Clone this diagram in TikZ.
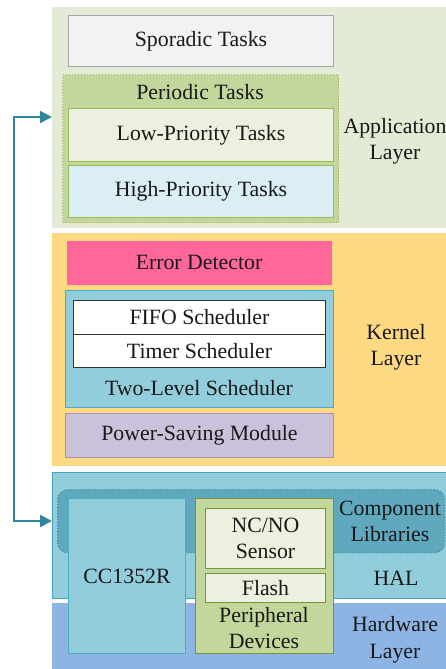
\documentclass[tikz,border=0pt]{standalone}
\usepackage{fontspec}
\setmainfont{Liberation Serif}
\newfontfamily\tnr{Liberation Serif}
\usetikzlibrary{arrows.meta}

\definecolor{appbg}{HTML}{E3EAD5}
\definecolor{sporfill}{HTML}{F2F2F2}
\definecolor{sporline}{HTML}{A6A6A6}
\definecolor{olivefill}{HTML}{C3D69B}
\definecolor{oliveline}{HTML}{9BBB59}
\definecolor{paleg}{HTML}{EBF1DE}
\definecolor{paleb}{HTML}{DAEEF3}
\definecolor{kernbg}{HTML}{FDD983}
\definecolor{errfill}{HTML}{FF6699}
\definecolor{aqua}{HTML}{92CDDC}
\definecolor{aqualine}{HTML}{4BACC6}
\definecolor{teal}{HTML}{31859C}
\definecolor{lilac}{HTML}{CCC1DA}
\definecolor{lilacline}{HTML}{A193BC}
\definecolor{hwfill}{HTML}{8EB4E3}
\definecolor{compfill}{HTML}{5FA8BD}
\definecolor{darkolive}{HTML}{77933C}

\begin{document}
\begin{tikzpicture}[x=1pt,y=-1pt,
  font=\tnr\fontsize{21.8}{26.5}\selectfont,
  text=black!90,
  layer/.style={anchor=north west, inner sep=0pt, draw=none},
  box/.style={anchor=north west, inner sep=0pt, align=center, line width=1pt},
  lbl/.style={align=center, inner sep=0pt},
  conn/.style={draw=teal, line width=2pt, {Triangle[length=12pt,width=12pt]}-{Triangle[length=12pt,width=12pt]}}
]
\useasboundingbox (0,0) rectangle (446,669);

% ---------- application layer ----------
\node[layer, fill=appbg, minimum width=400, minimum height=221] (app) at (52,7) {};
\node[box, draw=sporline, fill=sporfill, minimum width=265, minimum height=51] (spor) at (68,15) {Sporadic Tasks};
\node[box, draw=oliveline, fill=olivefill, dotted, line width=1.3pt, minimum width=276, minimum height=148] (periodic) at (62,74) {};
\node[lbl] (periodiclbl) at (200,92) {Periodic Tasks};
\node[box, draw=oliveline, fill=paleg, minimum width=265, minimum height=53] (low) at (68,108) {Low-Priority Tasks};
\node[box, draw=oliveline, fill=paleb, minimum width=265, minimum height=52] (high) at (68,165) {High-Priority Tasks};
\node[lbl] (applbl) at (395,141.5) {Application\\Layer};

% ---------- kernel layer ----------
\node[layer, fill=kernbg, minimum width=400, minimum height=233] (kernel) at (52,233) {};
\node[box, fill=errfill, minimum width=265, minimum height=44] (err) at (66,240) {Error Detector};
\node[box, draw=aqualine, fill=aqua, minimum width=268, minimum height=117] (twolevel) at (65,290) {};
\node[box, draw=black!80, fill=white, minimum width=252, minimum height=34] (fifo) at (73,300) {FIFO Scheduler};
\node[box, draw=black!80, fill=white, minimum width=252, minimum height=33] (timer) at (73,334) {Timer Scheduler};
\node[lbl] (twolevellbl) at (199,388) {Two-Level Scheduler};
\node[box, draw=lilacline, fill=lilac, minimum width=268, minimum height=44] (power) at (65,413) {Power-Saving Module};
\node[lbl] (kernlbl) at (396,347.5) {Kernel\\Layer};

% ---------- HAL and hardware layer ----------
\node[box, draw=aqualine!80!teal, fill=aqua, minimum width=400, minimum height=126] (hal) at (52,472) {};
\node[layer, fill=hwfill, minimum width=400, minimum height=70] (hw) at (52,603) {};
\node[box, draw=teal, fill=compfill, dotted, line width=1.4pt, rounded corners=10pt, minimum width=387, minimum height=63] (comp) at (57,489) {};
\node[box, draw=aqualine, fill=aqua, minimum width=117, minimum height=155] (cc) at (68,498) {CC1352R};
\node[box, draw=darkolive, fill=olivefill, minimum width=138, minimum height=155] (periph) at (195,498) {};
\node[box, draw=darkolive, fill=paleg, minimum width=120, minimum height=60] (sensor) at (205,508) {NC/NO\\Sensor};
\node[box, draw=darkolive, fill=paleg, minimum width=120, minimum height=29] (flash) at (205,573) {Flash};
\node[lbl] (periphlbl) at (264,628) {Peripheral\\Devices};
\node[lbl] (complbl) at (390,521.5) {Component\\Libraries};
\node[lbl] (hallbl) at (396,578) {HAL};
\node[lbl] (hwlbl) at (395,640) {Hardware\\Layer};

% ---------- link between application layer and HAL ----------
\coordinate (apptip) at (app.west |- 0,117);
\coordinate (haltip) at (hal.west |- 0,521);
\draw[conn] (apptip) -- ++(-38,0) |- (haltip);
\end{tikzpicture}
\end{document}
